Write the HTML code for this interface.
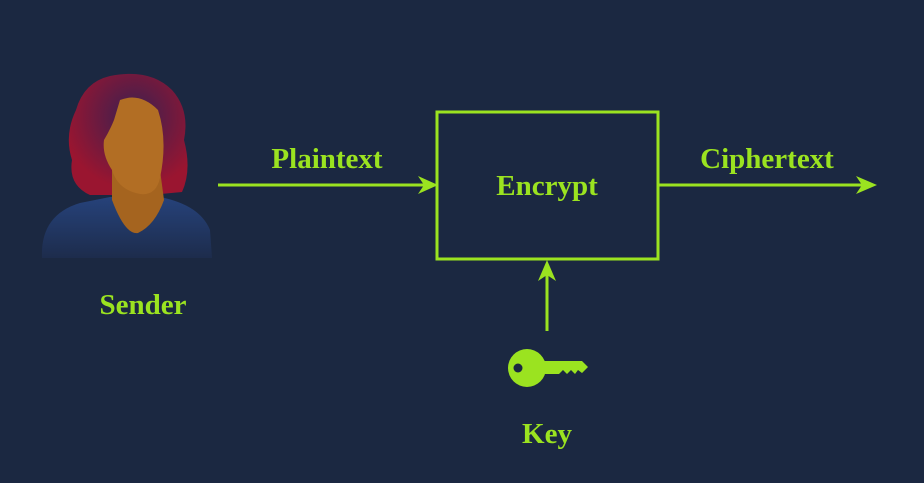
<!DOCTYPE html><html><head><style>body{margin:0;background:#1b2841;}svg{display:block}text{font-family:"Liberation Serif",serif;font-weight:bold;fill:#9be320;font-size:29px}</style></head><body>
<svg width="924" height="483" viewBox="0 0 924 483">
<rect width="924" height="483" fill="#1b2841"/>
<defs><radialGradient id="h" cx="0.55" cy="0.35" r="0.6"><stop offset="0" stop-color="#3a2050"/><stop offset="1" stop-color="#9a1530"/></radialGradient>
<linearGradient id="s" x1="0" y1="0" x2="0" y2="1"><stop offset="0" stop-color="#26427a"/><stop offset="1" stop-color="#1d2c4c"/></linearGradient></defs>
<path d="M110 76 Q150 68 172 90 Q190 110 184 140 Q192 170 182 192 L150 195 L90 195 Q68 185 72 160 Q64 135 76 110 Q84 82 110 76Z" fill="url(#h)"/>
<path d="M42 258 Q40 215 80 203 L110 197 L160 197 Q200 205 210 230 L212 258Z" fill="url(#s)"/>
<path d="M112 165 L112 200 Q125 235 138 233 Q155 225 164 200 L160 170Z" fill="#a5641f"/>
<path d="M120 100 Q140 92 158 110 Q168 140 160 178 Q156 196 140 194 Q118 190 112 170 Q102 155 104 140 Q110 130 114 120 Z" fill="#b26e24"/>
<line x1="218" y1="185" x2="424" y2="185" stroke="#9be320" stroke-width="3"/>
<polygon points="438,185 418,176 424,185 418,194" fill="#9be320"/>
<rect x="437" y="112" width="221" height="147" fill="none" stroke="#9be320" stroke-width="3"/>
<line x1="658" y1="185" x2="862" y2="185" stroke="#9be320" stroke-width="3"/>
<polygon points="877,185 856,176 862,185 856,194" fill="#9be320"/>
<line x1="547" y1="331" x2="547" y2="272" stroke="#9be320" stroke-width="3"/>
<polygon points="547,260 538,281 547,275 556,281" fill="#9be320"/>
<circle cx="527" cy="368" r="19" fill="#9be320"/>
<circle cx="518" cy="368" r="4.5" fill="#1b2841"/>
<polygon points="540,361 582,361 588,367 582,373 578,370 575,374 571,370 567,374 563,370 559,374 540,374" fill="#9be320"/>
<text x="327" y="168" text-anchor="middle">Plaintext</text>
<text x="547" y="195" text-anchor="middle">Encrypt</text>
<text x="767" y="168" text-anchor="middle">Ciphertext</text>
<text x="143" y="314" text-anchor="middle">Sender</text>
<text x="547" y="443" text-anchor="middle">Key</text>
</svg></body></html>
